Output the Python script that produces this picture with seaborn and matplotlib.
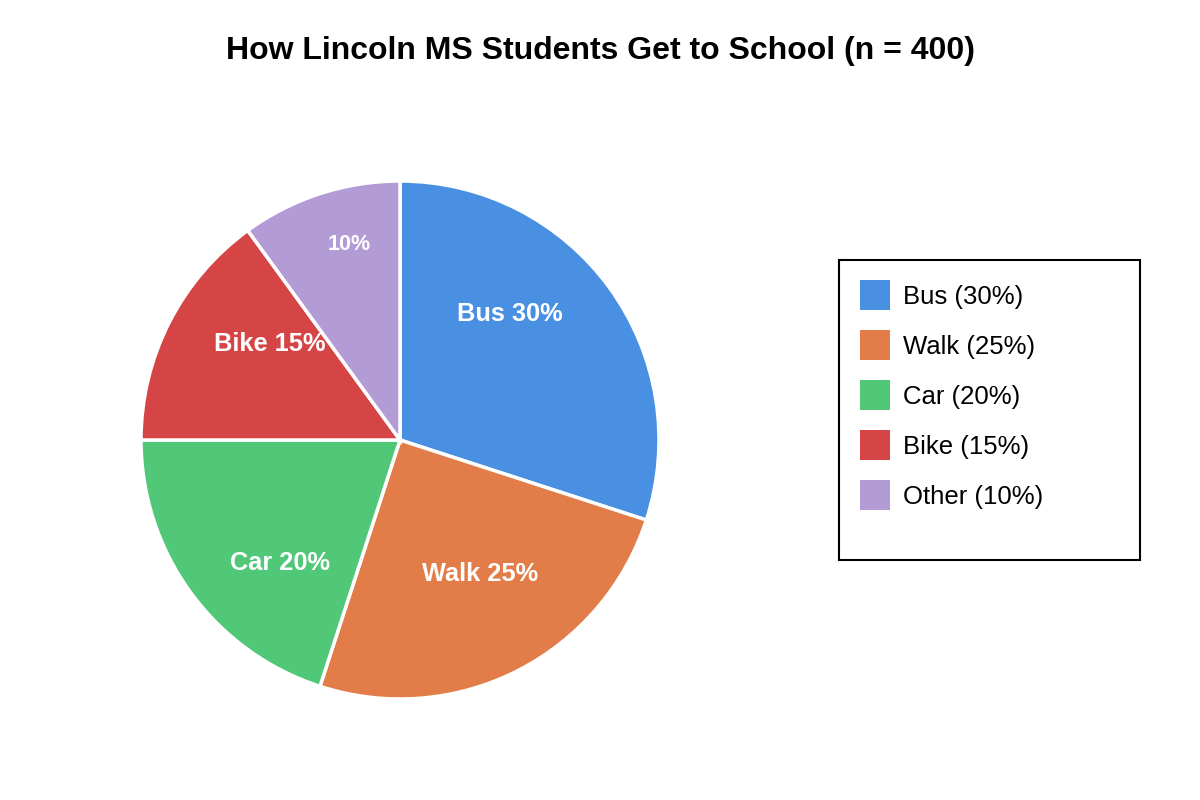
import matplotlib
matplotlib.use("Agg")
import matplotlib.pyplot as plt
import matplotlib.patches as mpatches
import numpy as np
import seaborn as sns

# Data
modes = ["Bus", "Walk", "Car", "Bike", "Other"]
shares = [30, 25, 20, 15, 10]
colors = ["#4A90E2", "#E27D4A", "#50C878", "#D64545", "#B39BD6"]
inside_labels = ["Bus 30%", "Walk 25%", "Car 20%", "Bike 15%", "10%"]
legend_labels = ["Bus (30%)", "Walk (25%)", "Car (20%)", "Bike (15%)", "Other (10%)"]

# label placement tweaks (degrees off the slice middle, fraction of radius)
label_shift = [13.5, 4.4, 9.1, -10.2, -3.7]
label_dist = [0.654, 0.593, 0.659, 0.632, 0.787]

sns.set_theme(style="white")
plt.rcParams["font.family"] = ["Liberation Sans", "DejaVu Sans"]
plt.rcParams["text.color"] = "black"

fig = plt.figure(figsize=(12, 8), dpi=100)
ax = fig.add_axes([141 / 1200, 101 / 800, 518 / 1200, 518 / 800])

wedges, _ = ax.pie(
    shares,
    colors=colors,
    startangle=90,
    counterclock=False,
    radius=1,
    wedgeprops=dict(edgecolor="white", linewidth=2.5),
)
ax.set_xlim(-1, 1)
ax.set_ylim(-1, 1)
ax.set_aspect("equal")
ax.axis("off")

# Labels inside the slices
for w, lab, sh, d in zip(wedges, inside_labels, label_shift, label_dist):
    mid = np.deg2rad((w.theta1 + w.theta2) / 2 + sh)
    small = lab == "10%"
    ax.text(d * np.cos(mid), d * np.sin(mid), lab, ha="center", va="center_baseline",
            color="white", fontweight="bold", fontsize=15.5 if small else 18.3)

fig.suptitle("How Lincoln MS Students Get to School (n = 400)",
             fontsize=23, fontweight="bold", y=1 - 48 / 800, va="center_baseline",
             color="black")

# Legend with separate frame
leg = fig.legend(
    wedges, legend_labels,
    loc="upper left",
    bbox_to_anchor=(860 / 1200, 1 - 280 / 800),
    bbox_transform=fig.transFigure,
    frameon=False,
    fontsize=18.5,
    borderpad=0, borderaxespad=0,
    handlelength=1.17, handleheight=1.42,
    labelspacing=0.78, handletextpad=0.5,
)
for h in leg.legend_handles:
    h.set_edgecolor("none")
    h.set_linewidth(0)

frame = mpatches.Rectangle((839 / 1200, 1 - 560 / 800), 301 / 1200, 300 / 800,
                           transform=fig.transFigure, fill=False,
                           edgecolor="black", linewidth=1.5)
fig.patches.append(frame)

fig.savefig("out.png", dpi=100, facecolor="white")
